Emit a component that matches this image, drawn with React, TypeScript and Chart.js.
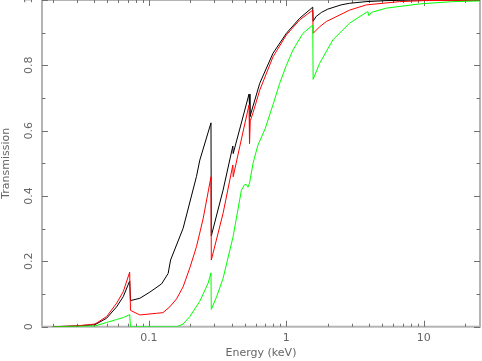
import React, { useEffect, useRef } from "react";
import { Chart, registerables } from "chart.js";

Chart.register(...registerables);

// ---- Data (energy in keV, transmission 0..1) ----
const blackEnergy = [0.02, 0.029, 0.0405, 0.0493, 0.0583, 0.0651, 0.0725, 0.0735, 0.086, 0.1017, 0.1237, 0.1381, 0.1438, 0.1774, 0.222, 0.2347, 0.283, 0.2845, 0.3464, 0.408, 0.4105, 0.458, 0.535, 0.5435, 0.64, 0.7993, 1.0, 1.249, 1.555, 1.565, 1.65, 1.8, 2.0, 2.5, 2.88, 3.8, 5.3, 8, 25.3];
const blackTrans = [0, 0.002, 0.006, 0.026, 0.061, 0.092, 0.14, 0.08, 0.087, 0.106, 0.131, 0.163, 0.204, 0.301, 0.46, 0.51, 0.624, 0.278, 0.418, 0.553, 0.53, 0.605, 0.712, 0.643, 0.745, 0.837, 0.898, 0.944, 0.978, 0.935, 0.95, 0.962, 0.972, 0.985, 0.99, 0.995, 0.998, 1.0, 1.0];

const redEnergy = [0.02, 0.029, 0.0405, 0.0493, 0.0583, 0.0651, 0.0725, 0.0735, 0.086, 0.1137, 0.1266, 0.1421, 0.1589, 0.1774, 0.1985, 0.222, 0.2479, 0.283, 0.2845, 0.3464, 0.408, 0.4105, 0.458, 0.535, 0.5395, 0.546, 0.5722, 0.64, 0.7993, 1.0, 1.249, 1.555, 1.565, 1.745, 1.952, 2.882, 3.811, 6.65, 10, 25.3];
const redTrans = [0, 0.002, 0.008, 0.031, 0.072, 0.107, 0.167, 0.05, 0.036, 0.041, 0.043, 0.061, 0.085, 0.122, 0.18, 0.245, 0.33, 0.459, 0.204, 0.347, 0.495, 0.459, 0.551, 0.679, 0.561, 0.63, 0.655, 0.724, 0.826, 0.893, 0.939, 0.969, 0.898, 0.918, 0.934, 0.969, 0.985, 0.995, 0.998, 1.0];

const greenEnergy = [0.02, 0.0405, 0.0493, 0.0583, 0.0651, 0.0725, 0.0735, 0.16, 0.1774, 0.1985, 0.2347, 0.2696, 0.283, 0.2845, 0.3118, 0.3464, 0.4095, 0.471, 0.495, 0.51, 0.526, 0.54, 0.5722, 0.62, 0.7, 0.7354, 0.8, 0.894, 1.0, 1.117, 1.32, 1.555, 1.565, 1.745, 2.18, 2.882, 3.811, 3.914, 3.98, 4.143, 5.324, 9.29, 16.13, 25.3];
const greenTrans = [0, 0.002, 0.013, 0.022, 0.028, 0.037, 0.0, 0.0, 0.008, 0.031, 0.078, 0.133, 0.165, 0.053, 0.093, 0.148, 0.275, 0.418, 0.434, 0.436, 0.427, 0.44, 0.5, 0.555, 0.605, 0.633, 0.68, 0.745, 0.8, 0.847, 0.898, 0.923, 0.757, 0.806, 0.878, 0.929, 0.962, 0.964, 0.952, 0.962, 0.975, 0.988, 0.995, 0.997];

const xTickValues = [0.1, 1, 10];
const xTickLabels = ["0.1", "1", "10"];
const yTickValues = [0, 0.2, 0.4, 0.6, 0.8, 1];
const yTickLabels = ["0", "0.2", "0.4", "0.6", "0.8", "1"];
const xTitle = "Energy (keV)";
const yTitle = "Transmission";

const X_MIN = 0.0167;
const X_MAX = 25.6;

const FONT = "11px 'DejaVu Sans', sans-serif";
const TEXT_COLOR = "#666666";

function toPoints(xs: number[], ys: number[]) {
  return xs.map((x, i) => ({ x, y: ys[i] }));
}

const framePlugin = {
  id: "frameTicks",
  beforeDatasetsDraw(chart: any) {
    const { ctx, chartArea: a, scales } = chart;
    const xs = scales.x;
    const ys = scales.y;
    ctx.save();
    // frame
    ctx.strokeStyle = "#b4b4b4";
    ctx.lineWidth = 2;
    ctx.strokeRect(a.left, a.top, a.right - a.left, a.bottom - a.top);

    // ticks
    ctx.strokeStyle = "#707070";
    ctx.lineWidth = 1;
    ctx.beginPath();
    for (let d = -2; d <= 1; d++) {
      for (let m = 1; m <= 9; m++) {
        const v = m * Math.pow(10, d);
        if (v < X_MIN || v > X_MAX) continue;
        const len = m === 1 ? 6 : 3;
        const px = Math.round(xs.getPixelForValue(v)) + 0.5;
        ctx.moveTo(px, a.bottom);
        ctx.lineTo(px, a.bottom - len);
        ctx.moveTo(px, a.top);
        ctx.lineTo(px, a.top + len);
      }
    }
    for (let i = 0; i <= 10; i++) {
      const v = i / 10;
      const len = i % 2 === 0 ? 6 : 3.5;
      const py = Math.round(ys.getPixelForValue(v)) + 0.5;
      ctx.moveTo(a.left, py);
      ctx.lineTo(a.left + len, py);
      ctx.moveTo(a.right, py);
      ctx.lineTo(a.right - len, py);
    }
    ctx.stroke();

    // labels
    ctx.fillStyle = TEXT_COLOR;
    ctx.font = FONT;
    ctx.textAlign = "center";
    ctx.textBaseline = "middle";
    xTickValues.forEach((v, i) => {
      ctx.fillText(xTickLabels[i], xs.getPixelForValue(v), a.bottom + 11.5);
    });
    yTickValues.forEach((v, i) => {
      ctx.save();
      ctx.translate(a.left - 13, ys.getPixelForValue(v));
      ctx.rotate(-Math.PI / 2);
      ctx.fillText(yTickLabels[i], 0, 0);
      ctx.restore();
    });
    ctx.fillText(xTitle, (a.left + a.right) / 2, a.bottom + 26.5);
    ctx.save();
    ctx.translate(a.left - 36, (a.top + a.bottom) / 2);
    ctx.rotate(-Math.PI / 2);
    ctx.fillText(yTitle, 0, 0);
    ctx.restore();
    ctx.restore();
  },
};

export default function App() {
  const canvasRef = useRef<HTMLCanvasElement | null>(null);

  useEffect(() => {
    if (!canvasRef.current) return;
    const chart = new Chart(canvasRef.current, {
      type: "line",
      data: {
        datasets: [
          {
            label: "green",
            data: toPoints(greenEnergy, greenTrans),
            borderColor: "#00ff00",
            borderWidth: 1,
            pointRadius: 0,
            tension: 0,
            order: 0,
          },
          {
            label: "red",
            data: toPoints(redEnergy, redTrans),
            borderColor: "#ff0000",
            borderWidth: 1,
            pointRadius: 0,
            tension: 0,
            order: 1,
          },
          {
            label: "black",
            data: toPoints(blackEnergy, blackTrans),
            borderColor: "#000000",
            borderWidth: 1,
            pointRadius: 0,
            tension: 0,
            order: 2,
          },
        ],
      },
      options: {
        animation: false,
        responsive: false,
        devicePixelRatio: 1,
        layout: { padding: { left: 42, right: 2, top: 0, bottom: 34.3 } },
        scales: {
          x: { type: "logarithmic", min: X_MIN, max: X_MAX, display: false },
          y: { type: "linear", min: 0, max: 1, display: false },
        },
        plugins: {
          legend: { display: false },
          tooltip: { enabled: false },
        },
        events: [],
      },
      plugins: [framePlugin],
    });
    return () => chart.destroy();
  }, []);

  return (
    <div style={{ position: "fixed", left: 0, top: 0, width: 482, height: 361, background: "#fff" }}>
      <canvas ref={canvasRef} width={482} height={361} style={{ display: "block", width: 482, height: 361 }} />
    </div>
  );
}
